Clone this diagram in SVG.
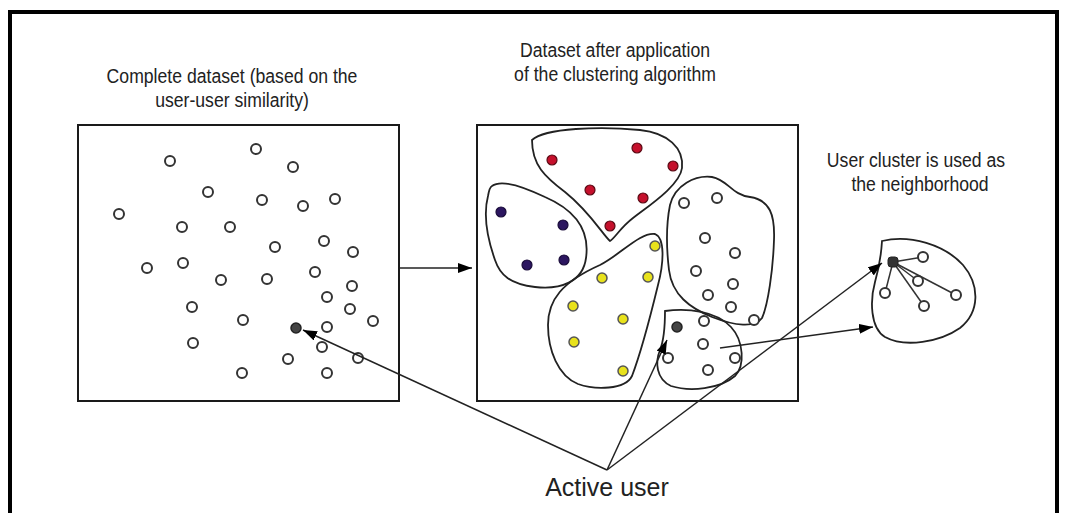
<svg xmlns="http://www.w3.org/2000/svg" width="1065" height="513" viewBox="0 0 1065 513">
<style>
.bg{fill:#fff}
.frame{stroke:#000;stroke-width:4;fill:none}
.box{fill:#fff;stroke:#1a1a1a;stroke-width:2}
.blob{fill:none;stroke:#222;stroke-width:1.8}
.w{fill:#fff;stroke:#333;stroke-width:2}
.r{fill:#c5102c;stroke:#5a0a14;stroke-width:1.2}
.p{fill:#2c1660;stroke:#1a0c3a;stroke-width:1.2}
.y{fill:#e8e21c;stroke:#555;stroke-width:1.5}
.a{fill:#444;stroke:#222;stroke-width:1.5}
.t{font-family:"Liberation Sans",Arial,sans-serif;font-size:21px;fill:#222;text-anchor:middle}
.big{font-size:25px}
.ln{stroke:#222;stroke-width:1.5;fill:none}
.sp{stroke:#333;stroke-width:1.5}
</style>
<defs>
<marker id="ah" viewBox="0 0 14 10" refX="14" refY="5" markerWidth="14" markerHeight="10" markerUnits="userSpaceOnUse" orient="auto">
<path d="M0,0 L14,5 L0,10 Z" fill="#000"/>
</marker>
</defs>
<rect class="bg" width="1065" height="513"/>
<path class="frame" d="M10,513 L10,12 L1057,12 L1057,513"/>

<g id="labels">
<text class="t" transform="translate(232,83) scale(0.84,1)">Complete dataset (based on the</text>
<text class="t" transform="translate(232,107) scale(0.84,1)">user-user similarity)</text>
<text class="t" transform="translate(615,57) scale(0.84,1)">Dataset after application</text>
<text class="t" transform="translate(615,81) scale(0.84,1)">of the clustering algorithm</text>
<text class="t" transform="translate(916,167) scale(0.84,1)">User cluster is used as</text>
<text class="t" transform="translate(920,191) scale(0.84,1)">the neighborhood</text>
<text class="t big" x="607" y="496">Active user</text>
</g>

<g id="complete-dataset">
<rect class="box" x="78" y="125" width="321" height="276"/>
<circle class="w" cx="170" cy="161" r="5"/>
<circle class="w" cx="256" cy="149" r="5"/>
<circle class="w" cx="293" cy="167" r="5"/>
<circle class="w" cx="208" cy="192" r="5"/>
<circle class="w" cx="262" cy="200" r="5"/>
<circle class="w" cx="303" cy="206" r="5"/>
<circle class="w" cx="335" cy="199" r="5"/>
<circle class="w" cx="119" cy="214" r="5"/>
<circle class="w" cx="182" cy="227" r="5"/>
<circle class="w" cx="230" cy="227" r="5"/>
<circle class="w" cx="324" cy="241" r="5"/>
<circle class="w" cx="353" cy="252" r="5"/>
<circle class="w" cx="275" cy="247" r="5"/>
<circle class="w" cx="147" cy="268" r="5"/>
<circle class="w" cx="183" cy="263" r="5"/>
<circle class="w" cx="221" cy="280" r="5"/>
<circle class="w" cx="267" cy="279" r="5"/>
<circle class="w" cx="315" cy="272" r="5"/>
<circle class="w" cx="352" cy="286" r="5"/>
<circle class="w" cx="327" cy="297" r="5"/>
<circle class="w" cx="350" cy="309" r="5"/>
<circle class="w" cx="373" cy="321" r="5"/>
<circle class="w" cx="192" cy="307" r="5"/>
<circle class="w" cx="243" cy="320" r="5"/>
<circle class="w" cx="327" cy="327" r="5"/>
<circle class="w" cx="322" cy="347" r="5"/>
<circle class="w" cx="358" cy="358" r="5"/>
<circle class="w" cx="288" cy="359" r="5"/>
<circle class="w" cx="193" cy="343" r="5"/>
<circle class="w" cx="242" cy="373" r="5"/>
<circle class="w" cx="327" cy="373" r="5"/>
<circle class="a" cx="296" cy="328" r="5"/>
</g>

<g id="clustered-dataset">
<rect class="box" x="477" y="125" width="321" height="276"/>
<path class="blob" d="M532,140 C545,128 600,126 640,130 C668,133 684,148 682,168 C680,185 650,205 633,218 C620,228 615,238 610,241 C603,235 590,212 565,192 C545,177 532,165 532,140 Z"/>
<path class="blob" d="M492,186 C500,180 520,185 545,197 C575,210 590,230 586,258 C583,282 560,290 535,287 C510,284 500,275 495,260 C488,240 483,215 488,196 C489,190 490,187 492,186 Z"/>
<path class="blob" d="M600,265 C620,255 640,232 655,234 C665,238 664,262 658,285 C650,318 640,355 632,376 C625,390 595,390 578,384 C558,376 548,350 548,325 C548,300 562,282 600,265 Z"/>
<path class="blob" d="M670,205 C675,185 695,175 712,177 C728,180 732,195 750,197 C770,200 775,215 774,240 C773,270 768,305 762,318 C755,328 735,326 712,317 C690,308 672,295 669,270 C666,245 666,225 670,205 Z"/>
<path class="blob" d="M665,311 C688,308 716,311 731,327 C744,341 745,366 735,376 C720,389 690,392 671,386 C656,379 655,362 660,350 C664,340 665,330 665,311 Z"/>
<circle class="r" cx="552" cy="160" r="5"/>
<circle class="r" cx="637" cy="148" r="5"/>
<circle class="r" cx="673" cy="166" r="5"/>
<circle class="r" cx="590" cy="190" r="5"/>
<circle class="r" cx="643" cy="198" r="5"/>
<circle class="r" cx="610" cy="226" r="5"/>
<circle class="p" cx="501" cy="212" r="5"/>
<circle class="p" cx="563" cy="225" r="5"/>
<circle class="p" cx="564" cy="260" r="5"/>
<circle class="p" cx="527" cy="265" r="5"/>
<circle class="y" cx="655" cy="246" r="5"/>
<circle class="y" cx="648" cy="277" r="5"/>
<circle class="y" cx="602" cy="278" r="5"/>
<circle class="y" cx="573" cy="306" r="5"/>
<circle class="y" cx="623" cy="319" r="5"/>
<circle class="y" cx="574" cy="342" r="5"/>
<circle class="y" cx="623" cy="371" r="5"/>
<circle class="w" cx="684" cy="203" r="5"/>
<circle class="w" cx="717" cy="198" r="5"/>
<circle class="w" cx="705" cy="238" r="5"/>
<circle class="w" cx="735" cy="253" r="5"/>
<circle class="w" cx="696" cy="271" r="5"/>
<circle class="w" cx="733" cy="284" r="5"/>
<circle class="w" cx="708" cy="295" r="5"/>
<circle class="w" cx="731" cy="307" r="5"/>
<circle class="w" cx="754" cy="320" r="5"/>
<circle class="w" cx="704" cy="321" r="5"/>
<circle class="w" cx="703" cy="344" r="5"/>
<circle class="w" cx="668" cy="358" r="5"/>
<circle class="w" cx="735" cy="358" r="5"/>
<circle class="w" cx="708" cy="370" r="5"/>
<circle class="a" cx="677" cy="327" r="5"/>
</g>

<g id="neighborhood">
<path class="blob" d="M882,241 C910,234 945,245 963,265 C980,285 980,312 960,328 C940,342 905,348 885,337 C870,328 870,300 875,282 C879,268 881,258 882,241 Z"/>
<line class="sp" x1="893" y1="262" x2="923" y2="257"/>
<line class="sp" x1="893" y1="262" x2="918" y2="281"/>
<line class="sp" x1="893" y1="262" x2="885" y2="293"/>
<line class="sp" x1="893" y1="262" x2="924" y2="306"/>
<line class="sp" x1="893" y1="262" x2="956" y2="295"/>
<circle class="w" cx="923" cy="257" r="5"/>
<circle class="w" cx="918" cy="281" r="5"/>
<circle class="w" cx="885" cy="293" r="5"/>
<circle class="w" cx="924" cy="306" r="5"/>
<circle class="w" cx="956" cy="295" r="5"/>
<rect x="888" y="257" width="10" height="10" rx="3" fill="#333" stroke="#222" stroke-width="1"/>
</g>

<g id="connectors">
<line class="ln" x1="400" y1="268" x2="472" y2="268" marker-end="url(#ah)"/>
<line class="ln" x1="607" y1="470" x2="303" y2="330" marker-end="url(#ah)"/>
<line class="ln" x1="607" y1="470" x2="667" y2="340" marker-end="url(#ah)"/>
<line class="ln" x1="607" y1="470" x2="882" y2="263" marker-end="url(#ah)"/>
<line class="ln" x1="720" y1="348" x2="873" y2="327" marker-end="url(#ah)"/>
</g>
</svg>
